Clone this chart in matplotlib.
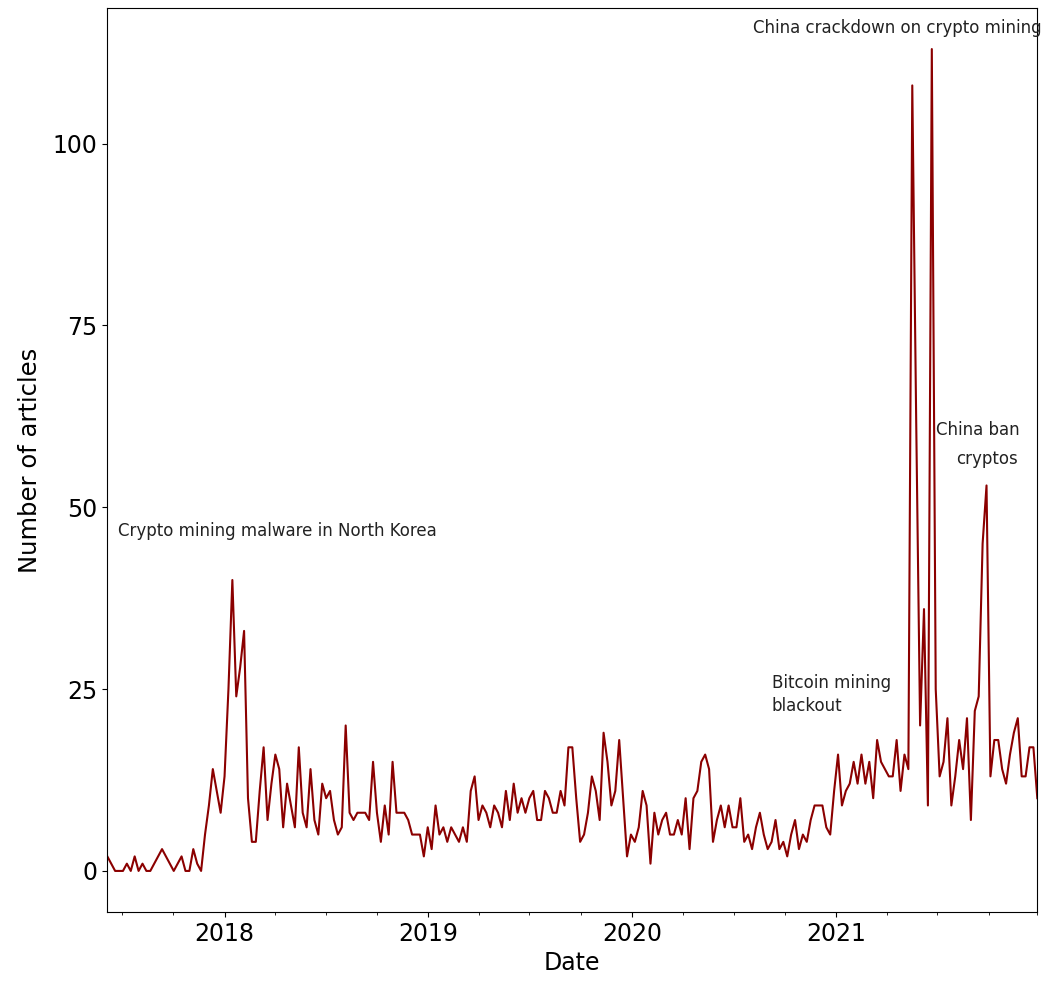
import matplotlib
matplotlib.use('Agg')
import matplotlib.pyplot as plt
import matplotlib.dates as mdates
import numpy as np
import pandas as pd

# weekly article counts
start_week = '2017-06-05'
articles = [
    2, 1, 0, 0, 0, 1, 0, 2, 0, 1, 0, 0, 1, 2, 3, 2, 1, 0, 1, 2,
    0, 0, 3, 1, 0, 5, 9, 14, 11, 8, 13, 25, 40, 24, 28, 33, 10, 4, 4, 11,
    17, 7, 12, 16, 14, 6, 12, 9, 6, 17, 8, 6, 14, 7, 5, 12, 10, 11, 7, 5,
    6, 20, 8, 7, 8, 8, 8, 7, 15, 8, 4, 9, 5, 15, 8, 8, 8, 7, 5, 5,
    5, 2, 6, 3, 9, 5, 6, 4, 6, 5, 4, 6, 4, 11, 13, 7, 9, 8, 6, 9,
    8, 6, 11, 7, 12, 8, 10, 8, 10, 11, 7, 7, 11, 10, 8, 8, 11, 9, 17, 17,
    10, 4, 5, 8, 13, 11, 7, 19, 15, 9, 11, 18, 10, 2, 5, 4, 6, 11, 9, 1,
    8, 5, 7, 8, 5, 5, 7, 5, 10, 3, 10, 11, 15, 16, 14, 4, 7, 9, 6, 9,
    6, 6, 10, 4, 5, 3, 6, 8, 5, 3, 4, 7, 3, 4, 2, 5, 7, 3, 5, 4,
    7, 9, 9, 9, 6, 5, 11, 16, 9, 11, 12, 15, 12, 16, 12, 15, 10, 18, 15, 14,
    13, 13, 18, 11, 16, 14, 108, 62, 20, 36, 9, 113, 25, 13, 15, 21, 9, 13, 18, 14,
    21, 7, 22, 24, 45, 53, 13, 18, 18, 14, 12, 16, 19, 21, 13, 13, 17, 17, 10,
]
dates = pd.date_range(start_week, periods=len(articles), freq='W-MON')

# annotations: (text, date, y)
notes = [
    ('Crypto mining malware in North Korea', '2017-06-25', 46.7),
    ('China crackdown on crypto mining', '2020-08-05', 115.9),
    ('Bitcoin mining\nblackout', '2020-09-07', 24.2),
    ('China ban', '2021-06-28', 60.6),
    ('cryptos', '2021-08-03', 56.6),
]

fig = plt.figure(figsize=(10.46, 9.83), dpi=100)
ax = fig.add_axes([0.1026, 0.0722, 0.8891, 0.9197])
ax.plot(dates, articles, color='darkred', linewidth=1.5)
ax.set_xlim(dates[0], dates[-1])
ax.set_yticks([0, 25, 50, 75, 100])

ax.xaxis.set_major_locator(mdates.YearLocator())
ax.xaxis.set_major_formatter(mdates.DateFormatter('%Y'))
minor = list(pd.date_range('2017-07-01', '2021-12-31', freq='QS'))
minor = [d for d in minor if d.month != 1] + [dates[-1]]
ax.xaxis.set_minor_locator(matplotlib.ticker.FixedLocator(mdates.date2num(minor)))

ax.tick_params(axis='both', which='major', labelsize=17)
ax.set_xlabel('Date', fontsize=17)
ax.set_ylabel('Number of articles', fontsize=17.5, labelpad=8)

for text, day, y in notes:
    ax.text(pd.Timestamp(day), y, text, fontsize=12, va='center', ha='left',
            color='#222222', linespacing=1.35, clip_on=False)

fig.savefig('out.png', dpi=100)
